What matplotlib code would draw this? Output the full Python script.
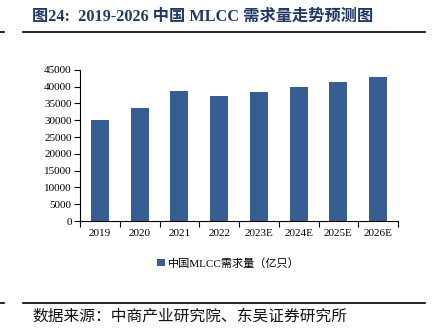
import matplotlib.pyplot as plt
import numpy as np
from matplotlib.lines import Line2D
from matplotlib.ticker import FixedLocator

years = ["2019", "2020", "2021", "2022", "2023E", "2024E", "2025E", "2026E"]
demand = [30000, 33600, 38800, 37100, 38400, 39900, 41400, 42900]
yticks = list(range(0, 45001, 5000))

title = "图24:  2019-2026 中国 MLCC 需求量走势预测图"
series_name = "中国MLCC需求量（亿只）"
source = "数据来源：中商产业研究院、东吴证券研究所"

serif = ["Liberation Serif", "Noto Sans CJK SC"]
bar_color = "#375E92"

fig = plt.figure(figsize=(4.35, 3.36), dpi=100)
ax = fig.add_axes([0.184, 0.342, 0.731, 0.450])

x = np.arange(len(years))
ax.bar(x, demand, width=0.45, color=bar_color, label=series_name)

ax.set_xlim(-0.5, len(years) - 0.5)
ax.set_ylim(0, 45000)
ax.set_yticks(yticks)
ax.set_yticklabels([str(v) for v in yticks], family=serif, fontsize=8)
ax.set_xticks(x)
ax.set_xticklabels(years, family=serif, fontsize=8)
ax.xaxis.set_minor_locator(FixedLocator(np.arange(-0.5, len(years), 1)))
ax.tick_params(axis="x", which="major", length=0, pad=6)
ax.tick_params(axis="x", which="minor", length=4, width=0.8, direction="out")
ax.tick_params(axis="y", length=4, width=0.8, direction="out", pad=2)
for s in ["top", "right"]:
    ax.spines[s].set_visible(False)
for s in ["left", "bottom"]:
    ax.spines[s].set_linewidth(0.8)

leg = fig.legend(loc="center", bbox_to_anchor=(0.525, 1 - 263 / 336), frameon=False,
                 prop={"family": serif, "size": 8}, handlelength=0.7, handleheight=0.7,
                 handletextpad=0.3)

fig.text(32 / 435, 1 - 17 / 336, title, family=serif, fontsize=11.7, fontweight="bold",
         color="#1F3864", va="center", ha="left")
fig.text(32 / 435, 1 - 317 / 336, source, family=serif, fontsize=11.3,
         color="#111111", va="center", ha="left")

for yy in [32, 303]:
    yf = 1 - yy / 336
    fig.add_artist(Line2D([23 / 435, 425 / 435], [yf, yf], color="black", lw=1.2))
    fig.add_artist(Line2D([0, 4 / 435], [yf, yf], color="black", lw=1.2))

fig.savefig("out.png", dpi=100)
